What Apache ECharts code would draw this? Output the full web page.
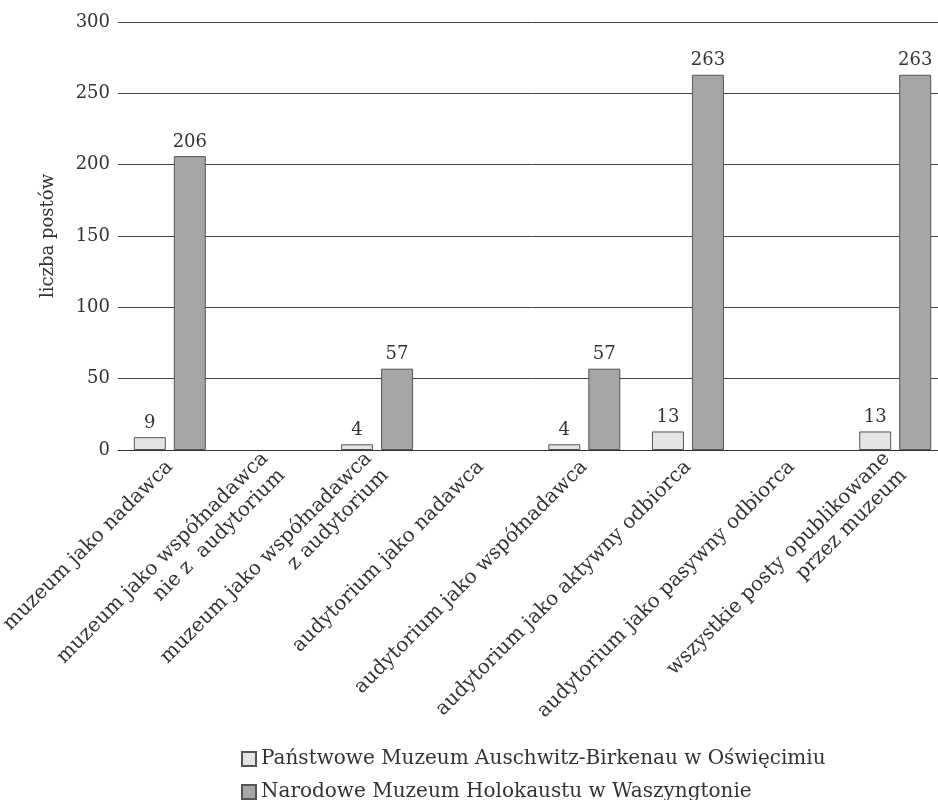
<!DOCTYPE html>
<html>
<head>
<meta charset="utf-8">
<script src="https://cdn.jsdelivr.net/npm/echarts@6/dist/echarts.min.js"></script>
<style>
  html, body { margin: 0; padding: 0; background: #fff; overflow: hidden; }
  /* wykres nieco szerszy niż okno - ostatnia kategoria wychodzi poza krawędź jak w oryginale */
  #main { width: 947px; height: 800px; }
</style>
</head>
<body>
<div id="main"></div>
<script>
// kategorie (oś X)
var categories = [
  'muzeum jako nadawca',
  'muzeum jako współnadawca\nnie z  audytorium',
  'muzeum jako współnadawca\nz audytorium',
  'audytorium jako nadawca',
  'audytorium jako współnadawca',
  'audytorium jako aktywny odbiorca',
  'audytorium jako pasywny odbiorca',
  'wszystkie posty opublikowane\nprzez muzeum'
];
// serie
var seriesNames = [
  'Państwowe Muzeum Auschwitz-Birkenau w Oświęcimiu',
  'Narodowe Muzeum Holokaustu w Waszyngtonie'
];
var auschwitzValues = [9, null, 4, null, 4, 13, null, 13];
var holokaustValues = [206, null, 57, null, 57, 263, null, 263];
var yTicks = [0, 50, 100, 150, 200, 250, 300];

var FONT = 'DejaVu Serif';

var myChart = echarts.init(document.getElementById('main'));

// legenda - dwie pozycje jedna pod drugą
function legendItem(name, top) {
  return {
    left: 236,
    top: top,
    itemWidth: 14,
    itemHeight: 14,
    icon: 'rect',
    selectedMode: false,
    textStyle: { fontFamily: FONT, fontSize: 20, color: '#333' },
    data: [name]
  };
}

var option = {
  backgroundColor: '#fff',
  textStyle: { fontFamily: FONT, color: '#333' },
  grid: {
    left: 118,
    right: 0,
    top: 22,
    bottom: 350,
    outerBoundsMode: 'none',
    containLabel: false
  },
  legend: [
    legendItem(seriesNames[0], 744),
    legendItem(seriesNames[1], 777)
  ],
  xAxis: {
    type: 'category',
    data: categories,
    axisLine: { show: true, lineStyle: { color: '#333', width: 1 } },
    axisTick: { show: false },
    axisLabel: {
      interval: 0,
      rotate: 45,
      margin: 14,
      fontFamily: FONT,
      fontSize: 20,
      color: '#333',
      lineHeight: 24
    }
  },
  yAxis: {
    type: 'value',
    min: yTicks[0],
    max: yTicks[yTicks.length - 1],
    interval: 50,
    name: 'liczba postów',
    nameLocation: 'middle',
    nameGap: 61,
    nameRotate: 90,
    nameTextStyle: { fontFamily: FONT, fontSize: 18, color: '#333' },
    axisLine: { show: false },
    axisTick: { show: false },
    axisLabel: { margin: 8, fontFamily: FONT, fontSize: 18, color: '#333' },
    splitLine: { show: true, lineStyle: { color: '#444', width: 1 } }
  },
  series: [
    {
      name: seriesNames[0],
      type: 'bar',
      data: auschwitzValues,
      barWidth: 32,
      barGap: '25%',
      itemStyle: { color: '#e4e4e4', borderColor: '#555', borderWidth: 1 },
      label: { show: true, position: 'top', distance: 5, fontFamily: FONT, fontSize: 18, color: '#333' }
    },
    {
      name: seriesNames[1],
      type: 'bar',
      data: holokaustValues,
      barWidth: 32,
      barGap: '25%',
      itemStyle: { color: '#a5a5a8', borderColor: '#555', borderWidth: 1 },
      label: { show: true, position: 'top', distance: 5, fontFamily: FONT, fontSize: 18, color: '#333' }
    }
  ]
};

myChart.setOption(option);
</script>
</body>
</html>
